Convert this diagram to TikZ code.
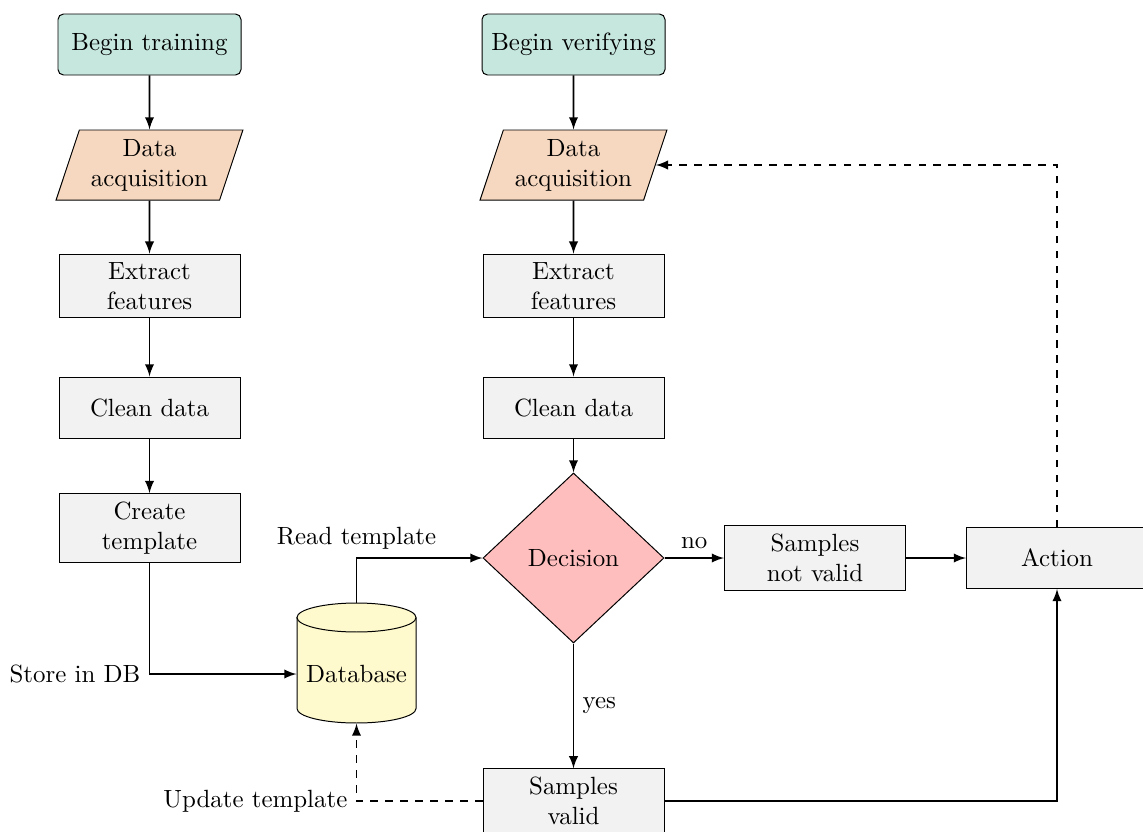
\documentclass[tikz,border=0pt]{standalone}
\usetikzlibrary{shapes.geometric,arrows}
\definecolor{startfill}{RGB}{198,231,222}
\definecolor{iofill}{RGB}{246,216,192}
\definecolor{procfill}{RGB}{242,242,242}
\definecolor{decfill}{RGB}{255,190,190}
\definecolor{dbfill}{RGB}{255,250,205}
\begin{document}
\begin{tikzpicture}[x=0.4016pt,y=-0.4016pt,
  base/.style={draw, thin, align=center, minimum width=181*0.4016pt, minimum height=61*0.4016pt},
  startbox/.style={base, rounded corners=2.2pt, fill=startfill, minimum width=183*0.4016pt},
  iobox/.style={draw, thin, align=center, trapezium, trapezium left angle=72, trapezium right angle=108,
    trapezium stretches=true, minimum width=188*0.4016pt, minimum height=70*0.4016pt, fill=iofill},
  proc/.style={base, fill=procfill},
  decbox/.style={draw, thin, diamond, fill=decfill, minimum width=181*0.4016pt, minimum height=170*0.4016pt},
  conn/.style={line width=0.7pt, -latex},
  dconn/.style={conn, dashed}
]
\useasboundingbox (0,0) rectangle (1143,831);

% database cylinder
\draw[thin, fill=dbfill] (297,617.5) -- (297,708.5)
  arc[start angle=180,end angle=360,x radius=23.9pt,y radius=5.82pt]
  -- (416,617.5)
  arc[start angle=0,end angle=180,x radius=23.9pt,y radius=5.82pt] -- cycle;
\draw[thin] (297,617.5) arc[start angle=180,end angle=360,x radius=23.9pt,y radius=5.82pt];
\node[minimum width=119*0.4016pt, minimum height=120*0.4016pt, inner sep=0pt] (db) at (356.5,663) {};
\node (dbt) at (356.5,674) {Database};

% left column
\node[startbox] (b1) at (149.5,44.5) {Begin training};
\node[iobox] (d1) at (149.5,165) {Data\\acquisition};
\node[proc] (e1) at (149.5,286) {Extract\\features};
\node[proc] (c1) at (149.5,407.5) {Clean data};
\node[proc] (ct) at (149.5,528) {Create\\template};

% right column
\node[startbox] (b2) at (573.5,44.5) {Begin verifying};
\node[iobox] (d2) at (573.5,165) {Data\\acquisition};
\node[proc] (e2) at (573.5,286) {Extract\\features};
\node[proc] (c2) at (573.5,407.5) {Clean data};
\node[decbox] (dec) at (573.5,558) {Decision};
\node[proc] (nv) at (815,558) {Samples\\not valid};
\node[proc] (act) at (1057,558) {Action};
\node[proc] (sv) at (573.5,801) {Samples\\valid};

% connectors
\draw[conn] (b1) -- (d1);
\draw[conn] (d1) -- (e1);
\draw[conn] (e1) -- (c1);
\draw[conn] (c1) -- (ct);
\draw[conn] (b2) -- (d2);
\draw[conn] (d2) -- (e2);
\draw[conn] (e2) -- (c2);
\draw[conn] (c2) -- (dec);

\draw[conn] (ct.south) |- node[pos=0.5, left] (lstore) {Store in DB} (db.west |- dbt);
\draw[conn] (db.north) |- node[pos=0.5, above] (lread) {Read template} (dec.west);
\draw[conn] (dec.east) -- node[above] (lno) {no} (nv.west);
\draw[conn] (nv.east) -- (act.west);
\draw[conn] (dec.south) -- node[right] (lyes) {yes} (sv.north);
\draw[conn] (sv.east) -| (act.south);
\draw[dconn] (sv.west) -| node[pos=0.5, left] (lupd) {Update template} (db.south);
\draw[dconn] (act.north) |- (d2.east);
\end{tikzpicture}
\end{document}
